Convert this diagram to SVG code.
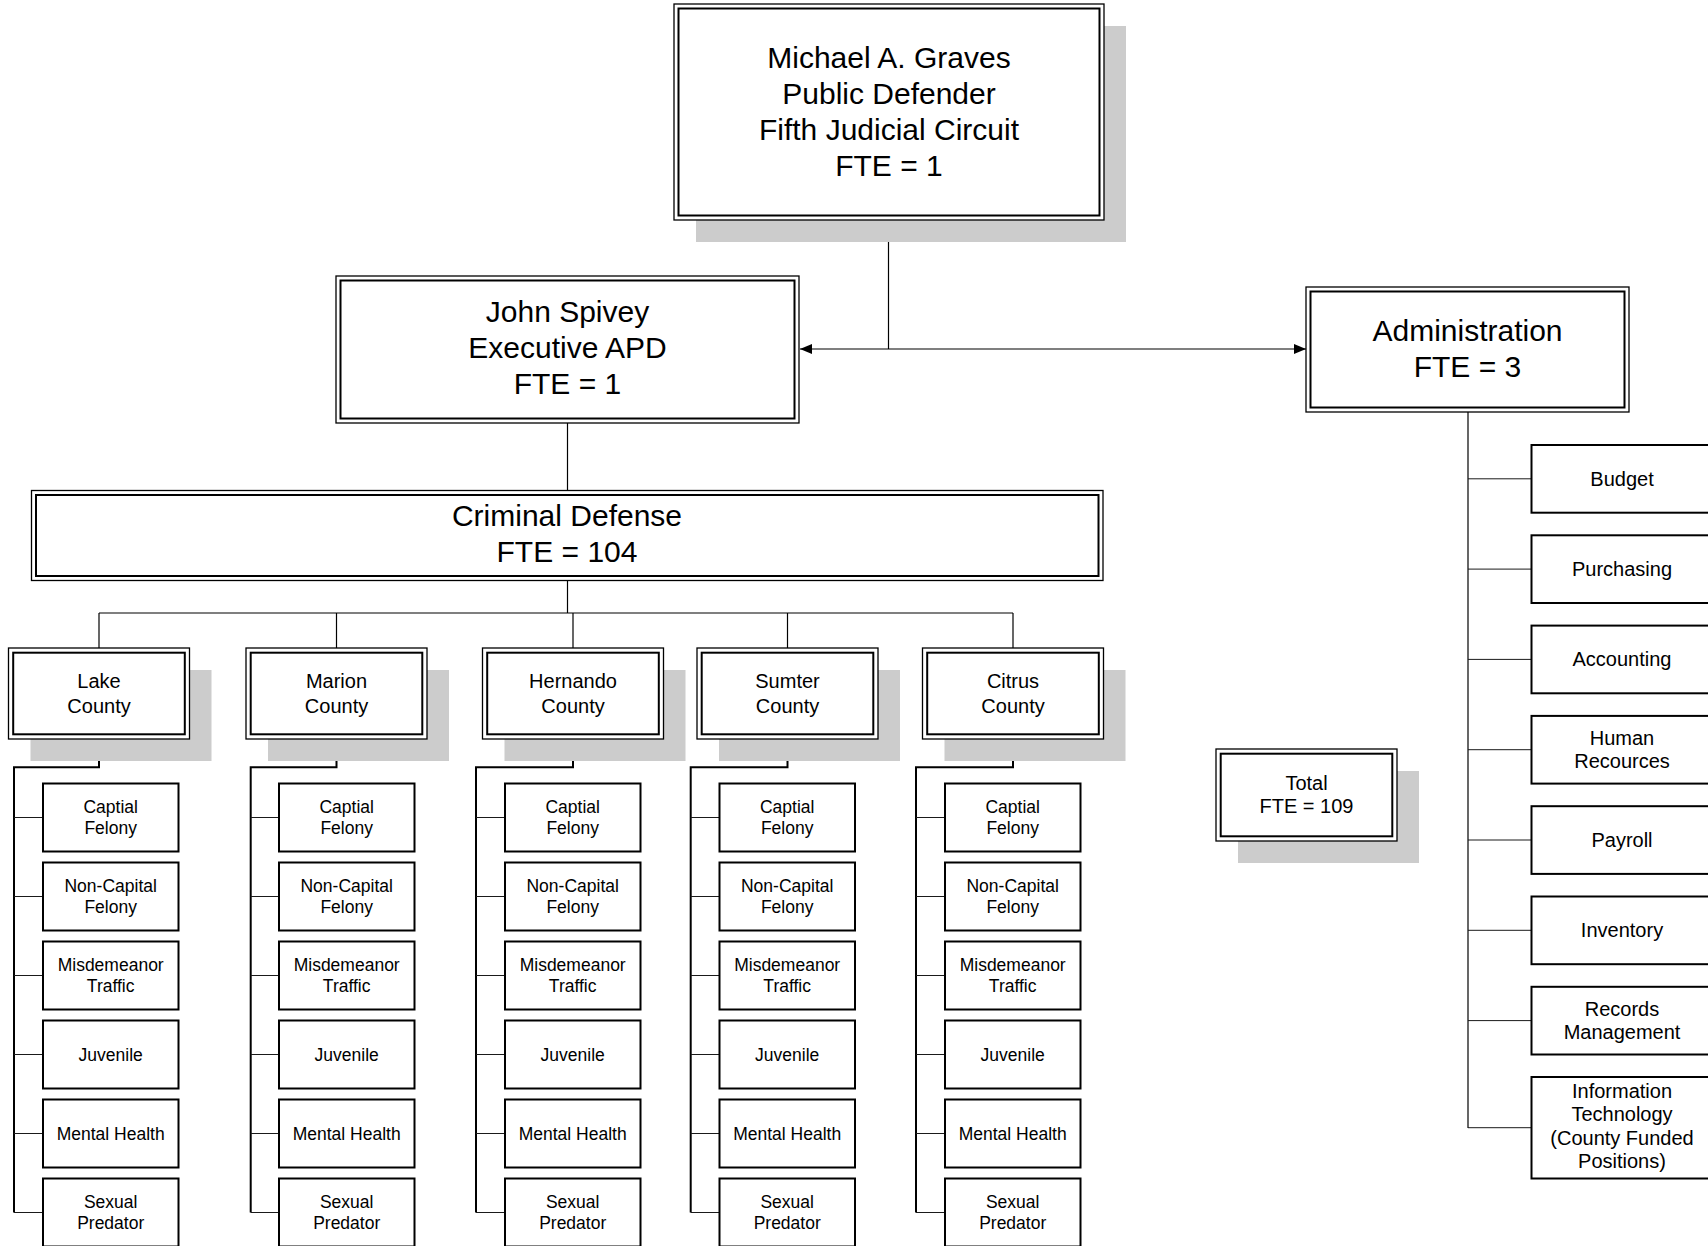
<svg xmlns="http://www.w3.org/2000/svg" width="1708" height="1246" viewBox="0 0 1708 1246">
  <style>
    .bg { fill: #ffffff; }
    .sh { fill: #cccccc; stroke: none; }
    .o { fill: #ffffff; stroke: #000000; stroke-width: 1.3; }
    .i { fill: none; stroke: #000000; stroke-width: 2; }
    .box { fill: #ffffff; stroke: #000000; stroke-width: 2; }
    .t { font-family: "Liberation Sans", Arial, sans-serif; fill: #000000; text-anchor: middle; }
    .t30 { font-size: 30px; }
    .t20 { font-size: 20px; }
    .t17 { font-size: 17.5px; }
    .ln { fill: none; stroke: #000000; stroke-width: 1.2; }
    .lnb { fill: none; stroke: #000000; stroke-width: 2; }
    .br { fill: none; stroke: #1a1a1a; stroke-width: 1; }
  </style>
  <defs>
    <marker id="arrow" viewBox="0 0 12 10" refX="12" refY="5" markerWidth="12" markerHeight="10" markerUnits="userSpaceOnUse" orient="auto-start-reverse">
      <path d="M0,0 L12,5 L0,10 z" fill="#000000"/>
    </marker>
  </defs>
  <rect class="bg" x="0" y="0" width="1708" height="1246"/>

  <!-- connectors -->
  <g id="connectors">
    <!-- public defender to executive APD / administration -->
    <line class="ln" x1="888.5" y1="220" x2="888.5" y2="349"/>
    <line class="ln" x1="800" y1="349" x2="1306" y2="349" marker-start="url(#arrow)" marker-end="url(#arrow)"/>
    <!-- executive APD to criminal defense -->
    <line class="ln" x1="567.5" y1="423" x2="567.5" y2="490.5"/>
    <!-- criminal defense to counties -->
    <line class="ln" x1="567.5" y1="581" x2="567.5" y2="613"/>
    <line class="ln" x1="99" y1="613" x2="1013" y2="613"/>
    <line class="ln" x1="99" y1="613" x2="99" y2="648"/>
    <line class="ln" x1="336.5" y1="613" x2="336.5" y2="648"/>
    <line class="ln" x1="573" y1="613" x2="573" y2="648"/>
    <line class="ln" x1="787.5" y1="613" x2="787.5" y2="648"/>
    <line class="ln" x1="1013" y1="613" x2="1013" y2="648"/>
    <!-- county spines -->
    <polyline class="lnb" points="99,739 99,767.3 14,767.3 14,1212.5"/>
    <polyline class="lnb" points="336.5,739 336.5,767.3 250.7,767.3 250.7,1212.5"/>
    <polyline class="lnb" points="573,739 573,767.3 476,767.3 476,1212.5"/>
    <polyline class="lnb" points="787.5,739 787.5,767.3 690.7,767.3 690.7,1212.5"/>
    <polyline class="lnb" points="1013,739 1013,767.3 916,767.3 916,1212.5"/>
    <!-- county branches -->
    <path class="br" d="M14,817.5H43 M14,896.5H43 M14,975.5H43 M14,1054.5H43 M14,1133.5H43 M14,1212.5H43"/>
    <path class="br" d="M250.7,817.5H279 M250.7,896.5H279 M250.7,975.5H279 M250.7,1054.5H279 M250.7,1133.5H279 M250.7,1212.5H279"/>
    <path class="br" d="M476,817.5H505 M476,896.5H505 M476,975.5H505 M476,1054.5H505 M476,1133.5H505 M476,1212.5H505"/>
    <path class="br" d="M690.7,817.5H719.5 M690.7,896.5H719.5 M690.7,975.5H719.5 M690.7,1054.5H719.5 M690.7,1133.5H719.5 M690.7,1212.5H719.5"/>
    <path class="br" d="M916,817.5H945 M916,896.5H945 M916,975.5H945 M916,1054.5H945 M916,1133.5H945 M916,1212.5H945"/>
    <!-- administration spine and branches -->
    <line class="ln" x1="1468" y1="412" x2="1468" y2="1128"/>
    <path class="br" d="M1468,478.8H1531.5 M1468,569.1H1531.5 M1468,659.4H1531.5 M1468,749.7H1531.5 M1468,840H1531.5 M1468,930.3H1531.5 M1468,1020.6H1531.5 M1468,1127.7H1531.5"/>
  </g>

  <!-- public defender -->
  <g id="public-defender">
    <rect class="sh" x="696" y="26" width="430" height="216"/>
    <rect class="o" x="674" y="4" width="430" height="216"/>
    <rect class="i" x="678.5" y="8.5" width="421" height="207"/>
    <text class="t t30" x="889" y="67.5">Michael A. Graves</text>
    <text class="t t30" x="889" y="103.5">Public Defender</text>
    <text class="t t30" x="889" y="139.5">Fifth Judicial Circuit</text>
    <text class="t t30" x="889" y="175.5">FTE = 1</text>
  </g>

  <!-- executive APD -->
  <g id="executive-apd">
    <rect class="o" x="336" y="276" width="463" height="147"/>
    <rect class="i" x="340.5" y="280.5" width="454" height="138"/>
    <text class="t t30" x="567.5" y="322">John Spivey</text>
    <text class="t t30" x="567.5" y="358">Executive APD</text>
    <text class="t t30" x="567.5" y="394">FTE = 1</text>
  </g>

  <!-- administration -->
  <g id="administration">
    <rect class="o" x="1306" y="287" width="323" height="125"/>
    <rect class="i" x="1310.5" y="291.5" width="314" height="116"/>
    <text class="t t30" x="1467.5" y="340.5">Administration</text>
    <text class="t t30" x="1467.5" y="376.5">FTE = 3</text>
  </g>

  <!-- criminal defense -->
  <g id="criminal-defense">
    <rect class="o" x="31.5" y="490.5" width="1071.5" height="90"/>
    <rect class="i" x="36" y="495" width="1062.5" height="81"/>
    <text class="t t30" x="567" y="526">Criminal Defense</text>
    <text class="t t30" x="567" y="562">FTE = 104</text>
  </g>

  <!-- counties -->
  <g id="lake-county">
    <rect class="sh" x="30.5" y="670" width="181" height="91"/>
    <rect class="o" x="8.5" y="648" width="181" height="91"/>
    <rect class="i" x="13.2" y="652.7" width="171.6" height="81.6"/>
    <text class="t t20" x="99" y="688">Lake</text>
    <text class="t t20" x="99" y="712.5">County</text>
  </g>
  <g id="marion-county">
    <rect class="sh" x="268" y="670" width="181" height="91"/>
    <rect class="o" x="246" y="648" width="181" height="91"/>
    <rect class="i" x="250.7" y="652.7" width="171.6" height="81.6"/>
    <text class="t t20" x="336.5" y="688">Marion</text>
    <text class="t t20" x="336.5" y="712.5">County</text>
  </g>
  <g id="hernando-county">
    <rect class="sh" x="504.5" y="670" width="181" height="91"/>
    <rect class="o" x="482.5" y="648" width="181" height="91"/>
    <rect class="i" x="487.2" y="652.7" width="171.6" height="81.6"/>
    <text class="t t20" x="573" y="688">Hernando</text>
    <text class="t t20" x="573" y="712.5">County</text>
  </g>
  <g id="sumter-county">
    <rect class="sh" x="719" y="670" width="181" height="91"/>
    <rect class="o" x="697" y="648" width="181" height="91"/>
    <rect class="i" x="701.7" y="652.7" width="171.6" height="81.6"/>
    <text class="t t20" x="787.5" y="688">Sumter</text>
    <text class="t t20" x="787.5" y="712.5">County</text>
  </g>
  <g id="citrus-county">
    <rect class="sh" x="944.5" y="670" width="181" height="91"/>
    <rect class="o" x="922.5" y="648" width="181" height="91"/>
    <rect class="i" x="927.2" y="652.7" width="171.6" height="81.6"/>
    <text class="t t20" x="1013" y="688">Citrus</text>
    <text class="t t20" x="1013" y="712.5">County</text>
  </g>

  <!-- county divisions: Lake -->
  <g id="lake-captial"><rect class="box" x="43" y="783.5" width="135.5" height="68"/><text class="t t17" x="110.7" y="812.5">Captial</text><text class="t t17" x="110.7" y="833.5">Felony</text></g>
  <g id="lake-noncapital"><rect class="box" x="43" y="862.5" width="135.5" height="68"/><text class="t t17" x="110.7" y="891.5">Non-Capital</text><text class="t t17" x="110.7" y="912.5">Felony</text></g>
  <g id="lake-misdemeanor"><rect class="box" x="43" y="941.5" width="135.5" height="68"/><text class="t t17" x="110.7" y="970.5">Misdemeanor</text><text class="t t17" x="110.7" y="991.5">Traffic</text></g>
  <g id="lake-juvenile"><rect class="box" x="43" y="1020.5" width="135.5" height="68"/><text class="t t17" x="110.7" y="1060.5">Juvenile</text></g>
  <g id="lake-mental"><rect class="box" x="43" y="1099.5" width="135.5" height="68"/><text class="t t17" x="110.7" y="1139.5">Mental Health</text></g>
  <g id="lake-sexual"><rect class="box" x="43" y="1178.5" width="135.5" height="68"/><text class="t t17" x="110.7" y="1207.5">Sexual</text><text class="t t17" x="110.7" y="1228.5">Predator</text></g>

  <!-- county divisions: Marion -->
  <g id="marion-captial"><rect class="box" x="279" y="783.5" width="135.5" height="68"/><text class="t t17" x="346.7" y="812.5">Captial</text><text class="t t17" x="346.7" y="833.5">Felony</text></g>
  <g id="marion-noncapital"><rect class="box" x="279" y="862.5" width="135.5" height="68"/><text class="t t17" x="346.7" y="891.5">Non-Capital</text><text class="t t17" x="346.7" y="912.5">Felony</text></g>
  <g id="marion-misdemeanor"><rect class="box" x="279" y="941.5" width="135.5" height="68"/><text class="t t17" x="346.7" y="970.5">Misdemeanor</text><text class="t t17" x="346.7" y="991.5">Traffic</text></g>
  <g id="marion-juvenile"><rect class="box" x="279" y="1020.5" width="135.5" height="68"/><text class="t t17" x="346.7" y="1060.5">Juvenile</text></g>
  <g id="marion-mental"><rect class="box" x="279" y="1099.5" width="135.5" height="68"/><text class="t t17" x="346.7" y="1139.5">Mental Health</text></g>
  <g id="marion-sexual"><rect class="box" x="279" y="1178.5" width="135.5" height="68"/><text class="t t17" x="346.7" y="1207.5">Sexual</text><text class="t t17" x="346.7" y="1228.5">Predator</text></g>

  <!-- county divisions: Hernando -->
  <g id="hernando-captial"><rect class="box" x="505" y="783.5" width="135.5" height="68"/><text class="t t17" x="572.7" y="812.5">Captial</text><text class="t t17" x="572.7" y="833.5">Felony</text></g>
  <g id="hernando-noncapital"><rect class="box" x="505" y="862.5" width="135.5" height="68"/><text class="t t17" x="572.7" y="891.5">Non-Capital</text><text class="t t17" x="572.7" y="912.5">Felony</text></g>
  <g id="hernando-misdemeanor"><rect class="box" x="505" y="941.5" width="135.5" height="68"/><text class="t t17" x="572.7" y="970.5">Misdemeanor</text><text class="t t17" x="572.7" y="991.5">Traffic</text></g>
  <g id="hernando-juvenile"><rect class="box" x="505" y="1020.5" width="135.5" height="68"/><text class="t t17" x="572.7" y="1060.5">Juvenile</text></g>
  <g id="hernando-mental"><rect class="box" x="505" y="1099.5" width="135.5" height="68"/><text class="t t17" x="572.7" y="1139.5">Mental Health</text></g>
  <g id="hernando-sexual"><rect class="box" x="505" y="1178.5" width="135.5" height="68"/><text class="t t17" x="572.7" y="1207.5">Sexual</text><text class="t t17" x="572.7" y="1228.5">Predator</text></g>

  <!-- county divisions: Sumter -->
  <g id="sumter-captial"><rect class="box" x="719.5" y="783.5" width="135.5" height="68"/><text class="t t17" x="787.2" y="812.5">Captial</text><text class="t t17" x="787.2" y="833.5">Felony</text></g>
  <g id="sumter-noncapital"><rect class="box" x="719.5" y="862.5" width="135.5" height="68"/><text class="t t17" x="787.2" y="891.5">Non-Capital</text><text class="t t17" x="787.2" y="912.5">Felony</text></g>
  <g id="sumter-misdemeanor"><rect class="box" x="719.5" y="941.5" width="135.5" height="68"/><text class="t t17" x="787.2" y="970.5">Misdemeanor</text><text class="t t17" x="787.2" y="991.5">Traffic</text></g>
  <g id="sumter-juvenile"><rect class="box" x="719.5" y="1020.5" width="135.5" height="68"/><text class="t t17" x="787.2" y="1060.5">Juvenile</text></g>
  <g id="sumter-mental"><rect class="box" x="719.5" y="1099.5" width="135.5" height="68"/><text class="t t17" x="787.2" y="1139.5">Mental Health</text></g>
  <g id="sumter-sexual"><rect class="box" x="719.5" y="1178.5" width="135.5" height="68"/><text class="t t17" x="787.2" y="1207.5">Sexual</text><text class="t t17" x="787.2" y="1228.5">Predator</text></g>

  <!-- county divisions: Citrus -->
  <g id="citrus-captial"><rect class="box" x="945" y="783.5" width="135.5" height="68"/><text class="t t17" x="1012.7" y="812.5">Captial</text><text class="t t17" x="1012.7" y="833.5">Felony</text></g>
  <g id="citrus-noncapital"><rect class="box" x="945" y="862.5" width="135.5" height="68"/><text class="t t17" x="1012.7" y="891.5">Non-Capital</text><text class="t t17" x="1012.7" y="912.5">Felony</text></g>
  <g id="citrus-misdemeanor"><rect class="box" x="945" y="941.5" width="135.5" height="68"/><text class="t t17" x="1012.7" y="970.5">Misdemeanor</text><text class="t t17" x="1012.7" y="991.5">Traffic</text></g>
  <g id="citrus-juvenile"><rect class="box" x="945" y="1020.5" width="135.5" height="68"/><text class="t t17" x="1012.7" y="1060.5">Juvenile</text></g>
  <g id="citrus-mental"><rect class="box" x="945" y="1099.5" width="135.5" height="68"/><text class="t t17" x="1012.7" y="1139.5">Mental Health</text></g>
  <g id="citrus-sexual"><rect class="box" x="945" y="1178.5" width="135.5" height="68"/><text class="t t17" x="1012.7" y="1207.5">Sexual</text><text class="t t17" x="1012.7" y="1228.5">Predator</text></g>

  <!-- total -->
  <g id="total">
    <rect class="sh" x="1238" y="771" width="181" height="92"/>
    <rect class="o" x="1216" y="749" width="181" height="92"/>
    <rect class="i" x="1220.7" y="753.7" width="171.6" height="82.6"/>
    <text class="t t20" x="1306.5" y="789.5">Total</text>
    <text class="t t20" x="1306.5" y="813">FTE = 109</text>
  </g>

  <!-- administration units -->
  <g id="budget"><rect class="box" x="1531.5" y="445" width="181" height="67.7"/><text class="t t20" x="1622" y="485.8">Budget</text></g>
  <g id="purchasing"><rect class="box" x="1531.5" y="535.3" width="181" height="67.7"/><text class="t t20" x="1622" y="576.1">Purchasing</text></g>
  <g id="accounting"><rect class="box" x="1531.5" y="625.6" width="181" height="67.7"/><text class="t t20" x="1622" y="666.4">Accounting</text></g>
  <g id="human-resources"><rect class="box" x="1531.5" y="715.9" width="181" height="67.7"/><text class="t t20" x="1622" y="744.7">Human</text><text class="t t20" x="1622" y="768.2">Recources</text></g>
  <g id="payroll"><rect class="box" x="1531.5" y="806.2" width="181" height="67.7"/><text class="t t20" x="1622" y="847">Payroll</text></g>
  <g id="inventory"><rect class="box" x="1531.5" y="896.5" width="181" height="67.7"/><text class="t t20" x="1622" y="937.3">Inventory</text></g>
  <g id="records"><rect class="box" x="1531.5" y="986.8" width="181" height="67.7"/><text class="t t20" x="1622" y="1015.6">Records</text><text class="t t20" x="1622" y="1039.1">Management</text></g>
  <g id="information-technology">
    <rect class="box" x="1531.5" y="1077" width="181" height="101.5"/>
    <text class="t t20" x="1622" y="1097.5">Information</text>
    <text class="t t20" x="1622" y="1121">Technology</text>
    <text class="t t20" x="1622" y="1144.5">(County Funded</text>
    <text class="t t20" x="1622" y="1168">Positions)</text>
  </g>
</svg>
